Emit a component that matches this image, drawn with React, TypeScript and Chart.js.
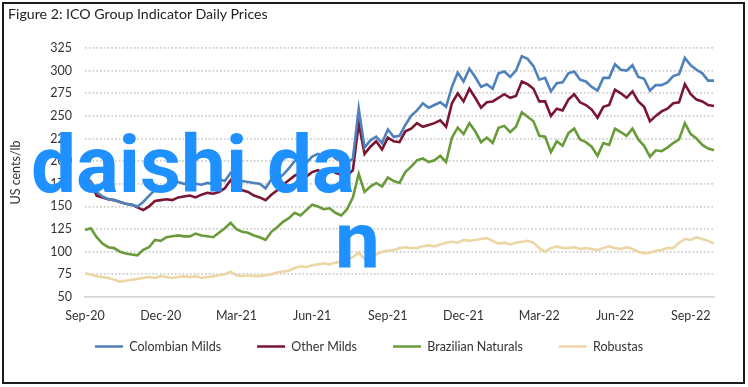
import React, { useEffect, useRef } from "react";
import { Chart, registerables } from "chart.js";

Chart.register(...registerables);

const weeks = [
  "2020-09-01","2020-09-08","2020-09-15","2020-09-22","2020-09-29",
  "2020-10-06","2020-10-13","2020-10-20","2020-10-27",
  "2020-11-03","2020-11-10","2020-11-17","2020-11-24",
  "2020-12-01","2020-12-08","2020-12-15","2020-12-22","2020-12-29",
  "2021-01-05","2021-01-12","2021-01-19","2021-01-26",
  "2021-02-02","2021-02-09","2021-02-16","2021-02-23",
  "2021-03-02","2021-03-09","2021-03-16","2021-03-23","2021-03-30",
  "2021-04-06","2021-04-13","2021-04-20","2021-04-27",
  "2021-05-04","2021-05-11","2021-05-18","2021-05-25",
  "2021-06-01","2021-06-08","2021-06-15","2021-06-22","2021-06-29",
  "2021-07-06","2021-07-13","2021-07-20","2021-07-27",
  "2021-08-03","2021-08-10","2021-08-17","2021-08-24","2021-08-31",
  "2021-09-07","2021-09-14","2021-09-21","2021-09-28",
  "2021-10-05","2021-10-12","2021-10-19","2021-10-26",
  "2021-11-02","2021-11-09","2021-11-16","2021-11-23","2021-11-30",
  "2021-12-07","2021-12-14","2021-12-21","2021-12-28",
  "2022-01-04","2022-01-11","2022-01-18","2022-01-25",
  "2022-02-01","2022-02-08","2022-02-15","2022-02-22",
  "2022-03-01","2022-03-08","2022-03-15","2022-03-22","2022-03-29",
  "2022-04-05","2022-04-12","2022-04-19","2022-04-26",
  "2022-05-03","2022-05-10","2022-05-17","2022-05-24","2022-05-31",
  "2022-06-07","2022-06-14","2022-06-21","2022-06-28",
  "2022-07-05","2022-07-12","2022-07-19","2022-07-26",
  "2022-08-02","2022-08-09","2022-08-16","2022-08-23","2022-08-30",
  "2022-09-06","2022-09-13","2022-09-20","2022-09-27",
];

const tickDates = [
  "2020-09-01","2020-12-01","2021-03-02","2021-06-01","2021-08-31",
  "2021-11-30","2022-03-01","2022-05-31","2022-08-30",
];
const tickLabels = ["Sep-20","Dec-20","Mar-21","Jun-21","Sep-21","Dec-21","Mar-22","Jun-22","Sep-22"];

const colombianMilds = [
  182, 178, 166, 161, 158, 157, 155, 153, 152, 150,
  155, 162, 168, 170, 173, 175, 177, 175, 176, 175,
  174, 176, 175, 180, 178, 187, 180, 178, 177, 176,
  175, 170, 180, 180, 185, 192, 200, 203, 198, 205,
  208, 206, 210, 203, 200, 198, 203, 258, 215, 223,
  227, 220, 235, 227, 228, 240, 250, 256, 264, 259,
  262, 265, 260, 282, 298, 288, 302, 293, 282, 285,
  280, 297, 299, 293, 300, 316, 313, 305, 290, 292,
  277, 286, 287, 297, 299, 290, 288, 282, 278, 292,
  292, 307, 301, 300, 306, 293, 291, 278, 284, 284,
  287, 294, 296, 314, 306, 301, 297, 289, 289,
];

const otherMilds = [
  178, 176, 162, 160, 158, 157, 155, 153, 152, 149,
  146, 150, 156, 157, 158, 157, 160, 161, 162, 160,
  163, 165, 164, 166, 170, 179, 170, 168, 166, 162,
  160, 157, 163, 168, 174, 179, 184, 187, 183, 188,
  190, 186, 192, 187, 185, 184, 190, 242, 208, 216,
  222, 213, 226, 222, 221, 233, 236, 242, 238, 240,
  242, 245, 238, 264, 275, 266, 280, 270, 259, 265,
  266, 270, 274, 270, 272, 288, 285, 280, 266, 266,
  250, 258, 256, 268, 274, 265, 262, 257, 248, 260,
  262, 279, 275, 270, 277, 266, 260, 244, 250, 255,
  258, 264, 265, 285, 274, 268, 266, 262, 261,
];

const brazilianNaturals = [
  124, 126, 116, 109, 105, 104, 100, 98, 97, 96,
  102, 105, 113, 112, 116, 117, 118, 117, 117, 120,
  118, 117, 116, 121, 126, 132, 125, 122, 121, 118,
  116, 113, 122, 127, 133, 137, 143, 140, 146, 152,
  150, 147, 148, 143, 140, 147, 160, 186, 166, 172,
  176, 172, 182, 178, 176, 188, 194, 201, 203, 199,
  201, 206, 199, 226, 237, 230, 242, 233, 221, 226,
  220, 237, 239, 232, 238, 254, 249, 244, 228, 227,
  210, 222, 217, 231, 236, 224, 221, 216, 206, 220,
  218, 236, 232, 228, 236, 224, 217, 205, 212, 211,
  215, 220, 224, 242, 230, 225, 218, 214, 212,
];

const robustas = [
  76, 75, 73, 72, 71, 69, 67, 68, 69, 70,
  71, 72, 71, 73, 72, 71, 72, 73, 72, 73,
  71, 72, 73, 74, 75, 78, 74, 73, 74, 73,
  73, 74, 75, 77, 78, 79, 82, 84, 83, 85,
  86, 87, 86, 88, 89, 92, 94, 99, 92, 90,
  97, 100, 101, 102, 104, 105, 104, 104, 106, 107,
  106, 108, 110, 111, 110, 113, 112, 113, 114, 115,
  112, 109, 110, 108, 110, 111, 112, 110, 104, 100,
  104, 106, 104, 104, 105, 103, 104, 103, 102, 104,
  106, 104, 103, 105, 103, 100, 98, 99, 101, 102,
  104, 104, 110, 114, 113, 116, 114, 112, 109,
];

const seriesNames = ["Colombian Milds", "Other Milds", "Brazilian Naturals", "Robustas"];
const seriesColors = ["#4F81BD", "#7A1532", "#6A9B3A", "#ECD6A6"];

const FONT = "Lato, 'Open Sans', sans-serif";
const WM_FONT = "Roboto, 'Noto Sans', sans-serif";

// moves the legend row up so it sits where the reference has it
const legendShift = {
  id: "legendShift",
  afterLayout(chart: any) {
    const lg = chart.legend;
    if (lg) {
      lg.top -= 22.75;
      lg.bottom -= 22.75;
    }
  },
};

export default function App() {
  const canvasRef = useRef<HTMLCanvasElement | null>(null);

  useEffect(() => {
    const canvas = canvasRef.current;
    if (!canvas) return;
    const values = [colombianMilds, otherMilds, brazilianNaturals, robustas];
    const chart = new Chart(canvas, {
      type: "line",
      data: {
        labels: weeks,
        datasets: values.map((v, i) => ({
          label: seriesNames[i],
          data: v,
          borderColor: seriesColors[i],
          backgroundColor: seriesColors[i],
          borderWidth: 2.6,
          pointRadius: 0,
          tension: 0,
        })),
      },
      plugins: [legendShift],
      options: {
        responsive: false,
        animation: false,
        devicePixelRatio: 1,
        layout: { padding: { left: 24, right: 34, top: 48, bottom: 1.5 } },
        plugins: {
          tooltip: { enabled: false },
          title: { display: false },
          legend: {
            position: "bottom",
            labels: {
              usePointStyle: true,
              pointStyle: "line",
              pointStyleWidth: 28,
              padding: 36,
              color: "#333",
              font: { family: FONT, size: 12.5 },
            },
          },
        },
        scales: {
          x: {
            type: "category",
            offset: false,
            grid: { display: false, drawTicks: false },
            border: { display: true, color: "#d6d6d6", width: 1.5 },
            afterFit: (scale: any) => {
              scale.height = 30;
            },
            ticks: {
              autoSkip: false,
              maxRotation: 0,
              minRotation: 0,
              padding: 11,
              color: "#333",
              font: { family: FONT, size: 12.5 },
              callback: (value: any, index: number) => {
                const k = tickDates.indexOf(weeks[index]);
                return k >= 0 ? tickLabels[k] : "";
              },
            },
          },
          y: {
            min: 50,
            max: 325,
            grid: { color: "#cfcfcf", lineWidth: 1.75, drawTicks: false },
            border: { display: false, dash: [1.75, 2] },
            afterFit: (scale: any) => {
              scale.width = 61;
            },
            ticks: {
              stepSize: 25,
              padding: 13,
              color: "#333",
              font: { family: FONT, size: 12.5 },
            },
            title: {
              display: true,
              text: "US cents/lb",
              color: "#333",
              font: { family: FONT, size: 12.5 },
              padding: { top: -16, bottom: 0 },
            },
          },
        },
      },
    });
    return () => chart.destroy();
  }, []);

  return (
    <div
      style={{
        position: "fixed",
        left: 0,
        top: 0,
        width: 748,
        height: 387,
        background: "#fff",
        overflow: "hidden",
      }}
    >
      <canvas
        ref={canvasRef}
        width={748}
        height={387}
        style={{ position: "absolute", left: 0, top: 0, width: 748, height: 387 }}
      />
      <div
        style={{
          position: "absolute",
          left: 2,
          top: 2,
          width: 743,
          height: 382,
          border: "2px solid #1c1c1c",
          boxSizing: "border-box",
          pointerEvents: "none",
        }}
      />
      <div
        style={{
          position: "absolute",
          left: 8,
          top: 5,
          fontFamily: FONT,
          fontSize: 14.2,
          lineHeight: "1.2",
          color: "#222",
          whiteSpace: "nowrap",
        }}
      >
        Figure 2: ICO Group Indicator Daily Prices
      </div>
      <div
        style={{
          position: "absolute",
          left: 31,
          top: 125,
          fontFamily: WM_FONT,
          fontWeight: 700,
          fontSize: 80,
          lineHeight: "80px",
          color: "#1E90FF",
          whiteSpace: "nowrap",
        }}
      >
        daishi da
      </div>
      <div
        style={{
          position: "absolute",
          left: 335,
          top: 201,
          fontFamily: WM_FONT,
          fontWeight: 700,
          fontSize: 80,
          lineHeight: "80px",
          color: "#1E90FF",
          whiteSpace: "nowrap",
        }}
      >
        n
      </div>
    </div>
  );
}
